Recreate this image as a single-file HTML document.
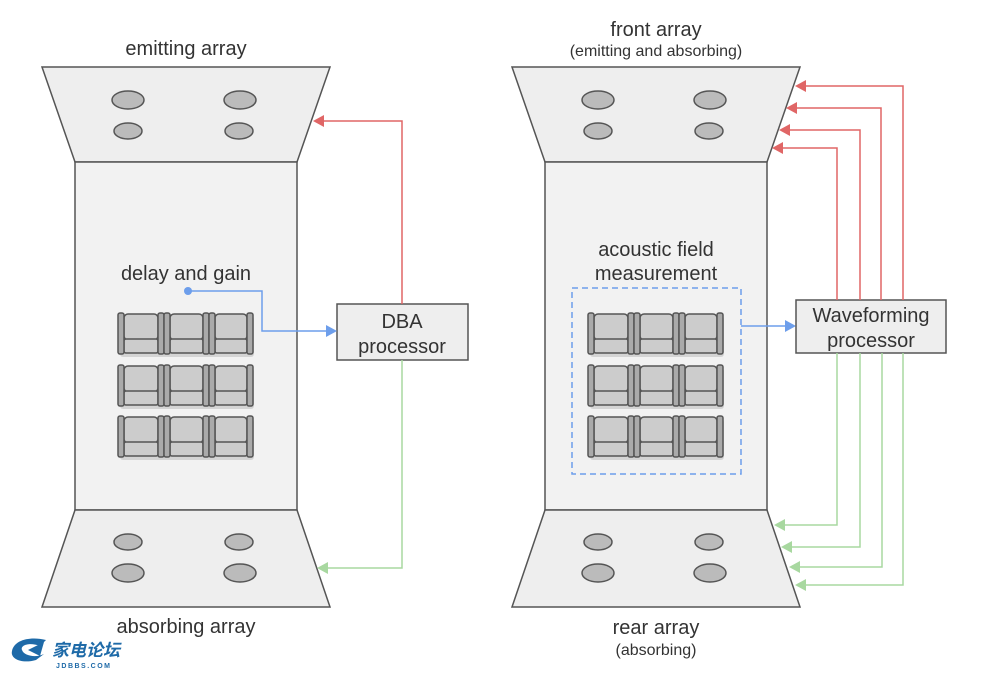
<!DOCTYPE html>
<html><head><meta charset="utf-8"><style>
body{margin:0;background:#fff;}
svg text{font-family:"Liberation Sans","Noto Sans CJK SC",sans-serif;fill:#333;}
</style></head><body>
<svg width="1000" height="679" viewBox="0 0 1000 679" xmlns="http://www.w3.org/2000/svg">
<defs>
<g id="row">
<rect x="2" y="3" width="134" height="41" fill="#000" opacity="0.12" rx="3"/>
<g stroke="#555" stroke-width="1.5" fill="#ccc">
<rect x="6" y="1" width="34" height="26" rx="4"/>
<rect x="6" y="26" width="34" height="14" rx="2"/>
<rect x="52" y="1" width="33" height="26" rx="4"/>
<rect x="52" y="26" width="33" height="14" rx="2"/>
<rect x="97" y="1" width="32" height="26" rx="4"/>
<rect x="97" y="26" width="32" height="14" rx="2"/>
<g fill="#aaa">
<rect x="0" y="0" width="6" height="41" rx="2"/>
<rect x="40" y="0" width="6" height="41" rx="2"/>
<rect x="46" y="0" width="6" height="41" rx="2"/>
<rect x="85" y="0" width="6" height="41" rx="2"/>
<rect x="91" y="0" width="6" height="41" rx="2"/>
<rect x="129" y="0" width="6" height="41" rx="2"/>
</g></g>
</g>
<g id="hall">
<polygon points="42,67 330,67 297,162 75,162" fill="#eee" stroke="#555" stroke-width="1.5"/>
<rect x="75" y="162" width="222" height="348" fill="#f2f2f2" stroke="#555" stroke-width="1.5"/>
<polygon points="75,510 297,510 330,607 42,607" fill="#eee" stroke="#555" stroke-width="1.5"/>
<g fill="#bbb" stroke="#555" stroke-width="1.5">
<ellipse cx="128" cy="100" rx="16" ry="9"/><ellipse cx="240" cy="100" rx="16" ry="9"/>
<ellipse cx="128" cy="131" rx="14" ry="8"/><ellipse cx="239" cy="131" rx="14" ry="8"/>
<ellipse cx="128" cy="542" rx="14" ry="8"/><ellipse cx="239" cy="542" rx="14" ry="8"/>
<ellipse cx="128" cy="573" rx="16" ry="9"/><ellipse cx="240" cy="573" rx="16" ry="9"/>
</g>
<use href="#row" x="118" y="313"/>
<use href="#row" x="118" y="365"/>
<use href="#row" x="118" y="416"/>
</g>
</defs>

<use href="#hall"/>
<use href="#hall" x="470"/>

<rect x="337" y="304" width="131" height="56" fill="#eee" stroke="#555" stroke-width="1.5"/>
<text x="402" y="328" font-size="20" text-anchor="middle">DBA</text>
<text x="402" y="353" font-size="20" text-anchor="middle">processor</text>
<polyline points="402,304 402,121 322,121" fill="none" stroke="#e06666" stroke-width="1.5"/>
<polygon points="313,121 324,115 324,127" fill="#e06666"/>
<polyline points="402,360 402,568 326,568" fill="none" stroke="#a8d8a0" stroke-width="1.5"/>
<polygon points="317,568 328,562 328,574" fill="#a8d8a0"/>
<circle cx="188" cy="291" r="4" fill="#6d9eeb"/>
<polyline points="188,291 262,291 262,331 328,331" fill="none" stroke="#6d9eeb" stroke-width="1.5"/>
<polygon points="337,331 326,325 326,337" fill="#6d9eeb"/>

<text x="186" y="55" font-size="20" text-anchor="middle">emitting array</text>
<text x="186" y="633" font-size="20" text-anchor="middle">absorbing array</text>
<text x="186" y="280" font-size="20" text-anchor="middle">delay and gain</text>

<rect x="572" y="288" width="169" height="186" fill="none" stroke="#6d9eeb" stroke-width="1.5" stroke-dasharray="6,4"/>
<text x="656" y="256" font-size="20" text-anchor="middle">acoustic field</text>
<text x="656" y="280" font-size="20" text-anchor="middle">measurement</text>
<line x1="741" y1="326" x2="787" y2="326" stroke="#6d9eeb" stroke-width="1.5"/>
<polygon points="796,326 785,320 785,332" fill="#6d9eeb"/>
<rect x="796" y="300" width="150" height="53" fill="#eee" stroke="#555" stroke-width="1.5"/>
<text x="871" y="322" font-size="20" text-anchor="middle">Waveforming</text>
<text x="871" y="347" font-size="20" text-anchor="middle">processor</text>

<g fill="none" stroke="#e06666" stroke-width="1.5">
<polyline points="903,300 903,86 804,86"/>
<polyline points="881,300 881,108 795,108"/>
<polyline points="860,300 860,130 788,130"/>
<polyline points="837,300 837,148 781,148"/>
</g>
<g fill="#e06666">
<polygon points="795,86 806,80 806,92"/>
<polygon points="786,108 797,102 797,114"/>
<polygon points="779,130 790,124 790,136"/>
<polygon points="772,148 783,142 783,154"/>
</g>
<g fill="none" stroke="#a8d8a0" stroke-width="1.5">
<polyline points="837,353 837,525 783,525"/>
<polyline points="860,353 860,547 790,547"/>
<polyline points="882,353 882,567 798,567"/>
<polyline points="903,353 903,585 804,585"/>
</g>
<g fill="#a8d8a0">
<polygon points="774,525 785,519 785,531"/>
<polygon points="781,547 792,541 792,553"/>
<polygon points="789,567 800,561 800,573"/>
<polygon points="795,585 806,579 806,591"/>
</g>

<text x="656" y="36" font-size="20" text-anchor="middle">front array</text>
<text x="656" y="56" font-size="16" text-anchor="middle">(emitting and absorbing)</text>
<text x="656" y="634" font-size="20" text-anchor="middle">rear array</text>
<text x="656" y="655" font-size="16" text-anchor="middle">(absorbing)</text>

<g>
<path d="M12,651 C14,640 30,636 46,640 L40,646 C30,642 20,645 22,650 C24,656 36,658 44,654 L36,660 C22,664 10,659 12,651Z" fill="#1e6aa8"/>
<path d="M28,650 L44,642 L40,656Z" fill="#1e6aa8"/>
<text x="52" y="656" font-size="17" font-weight="bold" style="fill:#1e6aa8;font-style:italic">家电论坛</text>
<text x="56" y="668" font-size="7" font-weight="bold" style="fill:#1e6aa8" letter-spacing="1.5">JDBBS.COM</text>
</g>
</svg>
</body></html>
